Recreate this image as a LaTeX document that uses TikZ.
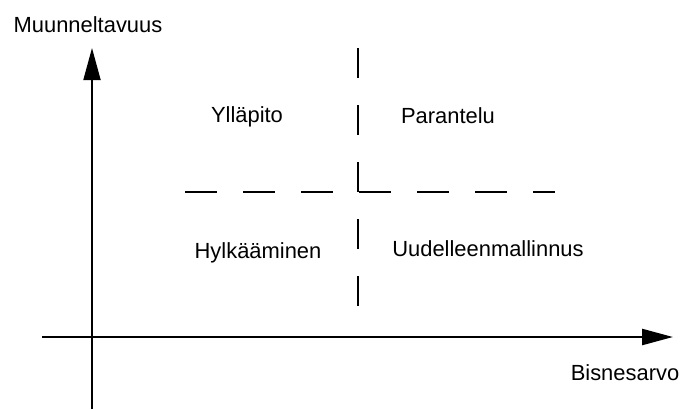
\documentclass[tikz,border=0pt]{standalone}
\usepackage{fontspec}
\setmainfont{Liberation Sans}
\usetikzlibrary{arrows.meta}

\begin{document}
\begin{tikzpicture}[x=1bp, y=-1bp]
        \useasboundingbox (0,0) rectangle (685,409);

        \coordinate (x0) at (42,337);
        \coordinate (x1) at (673,337);
        \coordinate (y0) at (92,409);
        \coordinate (y1) at (92,48);

        \coordinate (v0) at (358,48);
        \coordinate (v1) at (358,306);
        \coordinate (h0) at (185,192);
        \coordinate (h1) at (555,192);

        {\tikzstyle{every node}=[font=\fontsize{22}{26}\selectfont, anchor=base]
          \node (ylab) at (88,32) {Muunneltavuus};
          \node (xlab) at (625,380) {Bisnesarvo};

          \foreach \n/\x/\y/\t in {q0/247/122/Ylläpito, q1/448/123/Parantelu,
                                  q2/258/258/Hylkääminen, q3/488/256/Uudelleenmallinnus}
          {
            \node (\n) at (\x,\y) {\t};
          }
        }

        \draw [line width=1.8bp, -{Triangle[length=32bp, width=17bp]}] (y0) -- (y1);
        \draw [line width=2.4bp, -{Triangle[length=31bp, width=16bp]}] (x0) -- (x1);

        \draw [line width=1.5bp, dash pattern=on 30bp off 27bp] (v0) -- (v1);
        \draw [line width=1.5bp, dash pattern=on 32bp off 26bp] (h0) -- (h1);
      \end{tikzpicture}
\end{document}
